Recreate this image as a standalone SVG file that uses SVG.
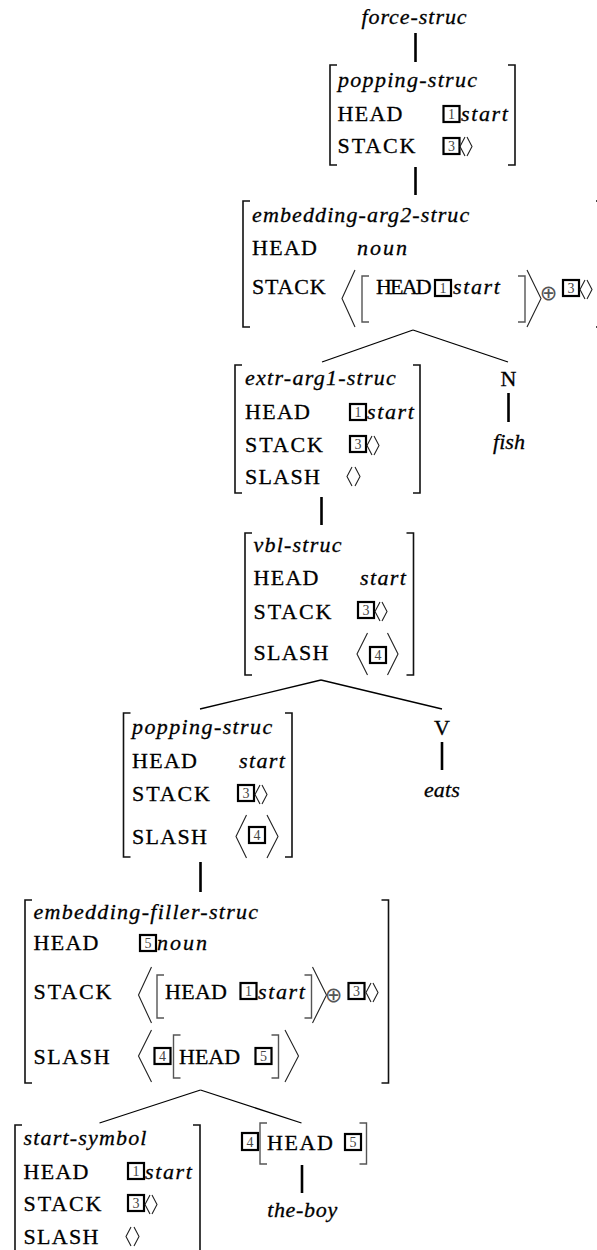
<svg xmlns="http://www.w3.org/2000/svg" width="597" height="1250" viewBox="0 0 597 1250">
<style>
text{font-family:"Liberation Serif","Times New Roman",serif}
.rm,.st,.it,.sv{font-size:22px;fill:#000;stroke:#000;stroke-width:0.3px}
.rm{letter-spacing:1.3px}
.st{letter-spacing:1.9px}
.it{font-style:italic;letter-spacing:1.2px}
.sv{font-style:italic;letter-spacing:1.65px}
.br{fill:none;stroke:#111;stroke-width:1.6}
.ib{fill:none;stroke:#555;stroke-width:1.4}
.dl{fill:none;stroke:#222;stroke-width:1.1}
.bx{fill:#fff;stroke:#000;stroke-width:2.2}
.num{font-size:14px;fill:#444;text-anchor:middle}
.op{font-family:"DejaVu Sans",sans-serif;font-size:21px;fill:#555;text-anchor:middle;dominant-baseline:central}
.edge{stroke:#000;stroke-width:1.3;fill:none}
.uni{stroke:#000;stroke-width:2.6;fill:none}
.mid{text-anchor:middle}
</style>
<rect width="597" height="1250" fill="#fff"/>

<g id="connectors">
<line class="uni" x1="415.5" y1="33" x2="415.5" y2="62"/>
<line class="uni" x1="415.5" y1="167" x2="415.5" y2="195"/>
<line class="edge" x1="413" y1="330" x2="322" y2="362"/>
<line class="edge" x1="413" y1="330" x2="508" y2="362"/>
<line class="uni" x1="508.5" y1="393" x2="508.5" y2="422"/>
<line class="uni" x1="321.5" y1="497" x2="321.5" y2="525"/>
<line class="edge" x1="321" y1="680" x2="200" y2="709"/>
<line class="edge" x1="321" y1="680" x2="442" y2="709"/>
<line class="uni" x1="442" y1="742" x2="442" y2="770"/>
<line class="uni" x1="200.5" y1="862" x2="200.5" y2="892"/>
<line class="edge" x1="200.5" y1="1090" x2="99.5" y2="1123"/>
<line class="edge" x1="200.5" y1="1090" x2="301.5" y2="1123"/>
<line class="uni" x1="302" y1="1165" x2="302" y2="1193"/>
</g>

<g id="n1-force-struc">
<text class="it mid" x="414.5" y="24" style="letter-spacing:0.95px">force-struc</text>
</g>

<g id="n2-popping-struc">
<path class="br" d="M337 65H330V165H337"/>
<path class="br" d="M508 65H515V165H508"/>
<text class="it" x="338" y="87" style="letter-spacing:1.3px">popping-struc</text>
<text class="rm" x="337.5" y="120.5">HEAD</text>
<rect class="bx" x="443.5" y="106" width="16" height="16"/><text class="num" x="451.5" y="119">1</text>
<text class="sv" x="461" y="120.5">start</text>
<text class="st" x="337.5" y="153">STACK</text>
<rect class="bx" x="443.5" y="138" width="16" height="16"/><text class="num" x="451.5" y="151">3</text>
<path class="dl" d="M465 137L460 146.5L465 156M467 137L472 146.5L467 156"/>
</g>

<g id="n3-embedding-arg2-struc">
<path class="br" d="M250 201H243V327H250"/>
<path class="br" d="M596 201H603V327H596"/>
<text class="it" x="252" y="222" style="letter-spacing:1.12px">embedding-arg2-struc</text>
<text class="rm" x="252" y="255">HEAD</text>
<text class="it" x="357" y="255" style="letter-spacing:2px">noun</text>
<text class="st" x="252" y="294" style="letter-spacing:0.8px">STACK</text>
<path class="dl" d="M355 270L342 298.5L355 327"/>
<path class="ib" d="M369 276H362V322H369"/>
<text class="rm" x="376" y="294" style="letter-spacing:-1.8px">HEAD</text>
<rect class="bx" x="435" y="280" width="16" height="16"/><text class="num" x="443" y="293">1</text>
<text class="sv" x="453" y="294">start</text>
<path class="ib" d="M518 276H525V322H518"/>
<path class="dl" d="M527 270L541 298.5L527 327"/>
<text class="op" x="548.5" y="293">⊕</text>
<rect class="bx" x="563" y="280" width="16" height="16"/><text class="num" x="571" y="293">3</text>
<path class="dl" d="M585 280L580 289.5L585 299M587 280L592 289.5L587 299"/>
</g>

<g id="n4-extr-arg1-struc">
<path class="br" d="M242 365H235V493H242"/>
<path class="br" d="M413 365H420V493H413"/>
<text class="it" x="245" y="385" style="letter-spacing:1.26px">extr-arg1-struc</text>
<text class="rm" x="245" y="419">HEAD</text>
<rect class="bx" x="350" y="404" width="16" height="16"/><text class="num" x="358" y="417">1</text>
<text class="sv" x="367" y="419">start</text>
<text class="st" x="245" y="452">STACK</text>
<rect class="bx" x="350" y="436" width="16" height="16"/><text class="num" x="358" y="449">3</text>
<path class="dl" d="M372 436L367 445.5L372 455M374 436L379 445.5L374 455"/>
<text class="rm" x="245" y="483.5">SLASH</text>
<path class="dl" d="M352 467L347 476.5L352 486M355 467L360 476.5L355 486"/>
</g>

<g id="n5-N-fish">
<text class="rm mid" x="509" y="386">N</text>
<text class="it mid" x="509" y="448.5" style="letter-spacing:0px">fish</text>
</g>

<g id="n6-vbl-struc">
<path class="br" d="M252 533H245V675H252"/>
<path class="br" d="M406.5 533H413.5V675H406.5"/>
<text class="it" x="253.5" y="552" style="letter-spacing:1.22px">vbl-struc</text>
<text class="rm" x="253.5" y="585">HEAD</text>
<text class="sv" x="360" y="585" style="letter-spacing:1.4px">start</text>
<text class="st" x="253.5" y="618.5">STACK</text>
<rect class="bx" x="358" y="602" width="16" height="16"/><text class="num" x="366" y="615">3</text>
<path class="dl" d="M380 602L375 611.5L380 621M382 602L387 611.5L382 621"/>
<text class="rm" x="253.5" y="659.5">SLASH</text>
<path class="dl" d="M367.5 633L357 654L367.5 675"/>
<rect class="bx" x="370" y="647" width="16" height="16"/><text class="num" x="378" y="660">4</text>
<path class="dl" d="M387.5 633L398 654L387.5 675"/>
</g>

<g id="n7-popping-struc">
<path class="br" d="M130.5 713H123.5V857H130.5"/>
<path class="br" d="M285 713H292V857H285"/>
<text class="it" x="132" y="733.5" style="letter-spacing:1.4px">popping-struc</text>
<text class="rm" x="132" y="767.5">HEAD</text>
<text class="sv" x="239" y="767.5" style="letter-spacing:1.4px">start</text>
<text class="st" x="132" y="801">STACK</text>
<rect class="bx" x="238" y="785" width="16" height="16"/><text class="num" x="246" y="798">3</text>
<path class="dl" d="M260 785L255 794.5L260 804M262 785L267 794.5L262 804"/>
<text class="rm" x="132" y="843.5">SLASH</text>
<path class="dl" d="M246.5 815L236 836.5L246.5 858"/>
<rect class="bx" x="249" y="827" width="16" height="16"/><text class="num" x="257" y="840">4</text>
<path class="dl" d="M267 815L278 836.5L267 858"/>
</g>

<g id="n8-V-eats">
<text class="rm mid" x="442.5" y="735">V</text>
<text class="it mid" x="442" y="797" style="letter-spacing:0.2px">eats</text>
</g>

<g id="n9-embedding-filler-struc">
<path class="br" d="M32 900H25V1083H32"/>
<path class="br" d="M381.5 900H388.5V1083H381.5"/>
<text class="it" x="33.5" y="918.5" style="letter-spacing:1.29px">embedding-filler-struc</text>
<text class="rm" x="33.5" y="950">HEAD</text>
<rect class="bx" x="140" y="935" width="16" height="16"/><text class="num" x="148" y="948">5</text>
<text class="it" x="157" y="950" style="letter-spacing:2px">noun</text>
<text class="st" x="33.5" y="998.5">STACK</text>
<path class="dl" d="M151.5 967L138.5 995L151.5 1023"/>
<path class="ib" d="M164 975H157V1018H164"/>
<text class="rm" x="165" y="998.5" style="letter-spacing:0.3px">HEAD</text>
<rect class="bx" x="240.5" y="983" width="16" height="16"/><text class="num" x="248.5" y="996">1</text>
<text class="sv" x="258" y="998.5">start</text>
<path class="ib" d="M304.5 975H311.5V1018H304.5"/>
<path class="dl" d="M312.5 967L326.5 995L312.5 1023"/>
<text class="op" x="333.5" y="995">⊕</text>
<rect class="bx" x="348.5" y="983" width="16" height="16"/><text class="num" x="356.5" y="996">3</text>
<path class="dl" d="M371 983L366 992.5L371 1002M373 983L378 992.5L373 1002"/>
<text class="rm" x="33.5" y="1063.5" style="letter-spacing:1.6px">SLASH</text>
<path class="dl" d="M151.5 1030L138.5 1056L151.5 1082"/>
<rect class="bx" x="154.5" y="1048" width="16" height="16"/><text class="num" x="162.5" y="1061">4</text>
<path class="ib" d="M180.5 1035H173.5V1078H180.5"/>
<text class="rm" x="179" y="1063.5" style="letter-spacing:0px">HEAD</text>
<rect class="bx" x="255.5" y="1048" width="16" height="16"/><text class="num" x="263.5" y="1061">5</text>
<path class="ib" d="M271.5 1035H278.5V1078H271.5"/>
<path class="dl" d="M285 1030L298.5 1056L285 1082"/>
</g>

<g id="n10-start-symbol">
<path class="br" d="M22 1125H15V1256"/>
<path class="br" d="M193 1125H200V1256"/>
<text class="it" x="23.5" y="1145" style="letter-spacing:1.18px">start-symbol</text>
<text class="rm" x="23.5" y="1178.5">HEAD</text>
<rect class="bx" x="128" y="1163" width="16" height="16"/><text class="num" x="136" y="1176">1</text>
<text class="sv" x="145" y="1178.5">start</text>
<text class="st" x="23.5" y="1211">STACK</text>
<rect class="bx" x="128" y="1195" width="16" height="16"/><text class="num" x="136" y="1208">3</text>
<path class="dl" d="M150 1195L145 1204.5L150 1214M152 1195L157 1204.5L152 1214"/>
<text class="rm" x="23.5" y="1243.5">SLASH</text>
<path class="dl" d="M131 1227L126 1236.5L131 1246M134 1227L139 1236.5L134 1246"/>
</g>

<g id="n11-head5-the-boy">
<rect class="bx" x="242" y="1133" width="16" height="17"/><text class="num" x="250" y="1146.5">4</text>
<path class="ib" d="M267 1123H260V1164H267"/>
<text class="rm" x="267" y="1150" style="letter-spacing:1.6px">HEAD</text>
<rect class="bx" x="345" y="1134" width="16" height="16"/><text class="num" x="353" y="1147">5</text>
<path class="ib" d="M359.5 1123H366.5V1164H359.5"/>
<text class="it mid" x="302.5" y="1217" style="letter-spacing:0.67px">the-boy</text>
</g>
</svg>
